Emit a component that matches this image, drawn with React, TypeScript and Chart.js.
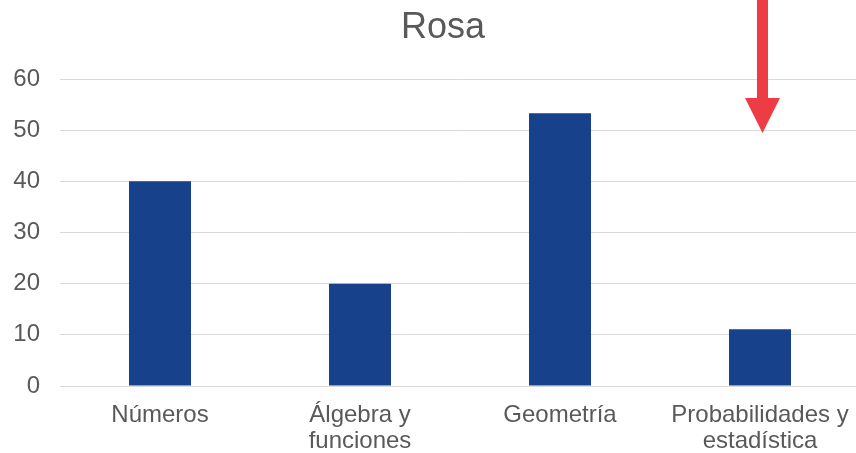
import React, { useEffect, useRef } from "react";
import { Chart, registerables } from "chart.js";

Chart.register(...registerables);

const categories: (string | string[])[] = [
  "Números",
  ["Álgebra y", "funciones"],
  "Geometría",
  ["Probabilidades y", "estadística"],
];
const values: number[] = [40, 20, 53.3, 11.1];
const yTicks = { min: 0, max: 60, step: 10 };
const titleText = "Rosa";

const FONT = "'Liberation Sans', Arial, sans-serif";
const GRAY = "#595959";

const extendAreaPlugin = {
  id: "extendArea",
  afterLayout(chart: any) {
    const x = chart.scales.x;
    const newRight = 860;
    x.right = newRight;
    x.width = newRight - x.left;
    chart.chartArea.right = newRight;
    chart.chartArea.width = newRight - chart.chartArea.left;
    x.configure();
  },
};

const overlayPlugin = {
  id: "overlay",
  afterDraw(chart: any) {
    const ctx = chart.ctx;
    ctx.save();
    // title
    ctx.fillStyle = GRAY;
    ctx.font = `36px ${FONT}`;
    ctx.textAlign = "center";
    ctx.textBaseline = "alphabetic";
    ctx.fillText(titleText, 443, 37.5);
    // red arrow annotation
    ctx.fillStyle = "#EE3C44";
    ctx.fillRect(757, 0, 11, 99);
    ctx.beginPath();
    ctx.moveTo(745, 98);
    ctx.lineTo(780, 98);
    ctx.lineTo(762.5, 133);
    ctx.closePath();
    ctx.fill();
    ctx.restore();
  },
};

export default function App() {
  const ref = useRef<HTMLCanvasElement>(null);
  useEffect(() => {
    if (!ref.current) return;
    const chart = new Chart(ref.current, {
      type: "bar",
      data: {
        labels: categories as any,
        datasets: [
          {
            data: values,
            backgroundColor: "#17418A",
            barPercentage: 0.62,
            categoryPercentage: 0.5,
          },
        ],
      },
      options: {
        animation: false,
        responsive: false,
        maintainAspectRatio: false,
        layout: { padding: { top: 79, right: 0, bottom: 0, left: 0 } },
        plugins: { legend: { display: false }, title: { display: false }, tooltip: { enabled: false } },
        scales: {
          x: {
            grid: { display: false, drawTicks: false },
            border: { display: true, color: "#D9D9D9", width: 1 },
            ticks: {
              color: GRAY,
              font: { family: FONT, size: 24, lineHeight: 1.1 },
              padding: 16,
              maxRotation: 0,
              autoSkip: false,
            },
            afterFit(scale: any) {
              scale.height = 67;
              scale.paddingLeft = 0;
              scale.paddingRight = 0;
            },
          },
          y: {
            min: yTicks.min,
            max: yTicks.max,
            grid: { color: "#D9D9D9", lineWidth: 1, drawTicks: false },
            border: { display: false },
            ticks: {
              stepSize: yTicks.step,
              color: GRAY,
              font: { family: FONT, size: 24 },
              padding: 20,
            },
            afterFit(scale: any) {
              scale.width = 60;
            },
          },
        },
      },
      plugins: [extendAreaPlugin, overlayPlugin],
    });
    return () => chart.destroy();
  }, []);
  return (
    <div style={{ position: "fixed", left: 0, top: 0, width: 856, height: 453, background: "#fff" }}>
      <canvas ref={ref} width={856} height={453} style={{ width: 856, height: 453 }} />
    </div>
  );
}
